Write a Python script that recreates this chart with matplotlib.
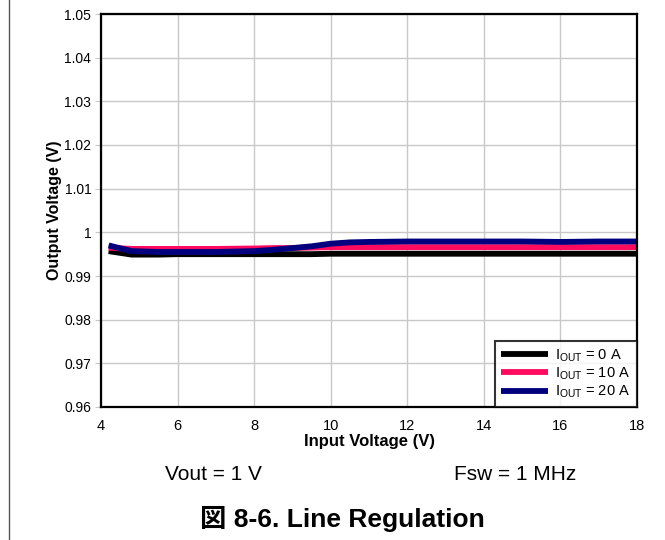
import matplotlib
matplotlib.use('Agg')
import matplotlib.pyplot as plt
from matplotlib.ticker import FuncFormatter
from matplotlib.lines import Line2D

# input voltage sweep (V)
vin = [4.2, 4.8, 5.5, 6, 7, 8, 8.5, 9, 9.5, 10, 10.5, 11, 12, 13, 14, 15, 16, 17, 18]

# output voltage per load current (V)
vout_0a = [0.9957, 0.9949, 0.9949, 0.9950, 0.9950, 0.9950, 0.9950, 0.9950, 0.9950, 0.9951,
           0.9951, 0.9951, 0.9951, 0.9951, 0.9951, 0.9951, 0.9951, 0.9951, 0.9951]
vout_10a = [0.9965, 0.9962, 0.9962, 0.9962, 0.9962, 0.9963, 0.9964, 0.9964, 0.9965, 0.9966,
            0.9966, 0.9966, 0.9966, 0.9966, 0.9966, 0.9966, 0.9966, 0.9966, 0.9966]
vout_20a = [0.9970, 0.9957, 0.9955, 0.9955, 0.9955, 0.9957, 0.9960, 0.9964, 0.9968, 0.9974,
            0.9977, 0.9978, 0.9979, 0.9979, 0.9979, 0.9979, 0.9978, 0.9979, 0.9979]

labels = [r'I$_{\mathregular{OUT}}$ = 0 A', r'I$_{\mathregular{OUT}}$ = 10 A', r'I$_{\mathregular{OUT}}$ = 20 A']
colors = ['#000000', '#ff0a5f', '#00007f']

xticks = [4, 6, 8, 10, 12, 14, 16, 18]
yticks = [0.96, 0.97, 0.98, 0.99, 1.0, 1.01, 1.02, 1.03, 1.04, 1.05]

plt.rcParams['font.family'] = ['Liberation Sans', 'Noto Sans CJK JP', 'DejaVu Sans']

fig = plt.figure(figsize=(6.65, 5.4), dpi=100)
ax = fig.add_axes([101 / 665, 133 / 540, 536 / 665, 393 / 540])

for y, c, lab in zip([vout_0a, vout_10a, vout_20a], colors, labels):
    ax.plot(vin, y, color=c, linewidth=4.2, label=lab, solid_capstyle='butt')

ax.set_xlim(4, 18)
ax.set_ylim(0.96, 1.05)
ax.set_xticks(xticks)
ax.set_yticks(yticks)
ax.yaxis.set_major_formatter(FuncFormatter(lambda v, p: f'{v:g}'))
ax.grid(True, color='#c8c8c8', linewidth=1)
ax.set_axisbelow(True)
ax.tick_params(axis='x', length=0, pad=8.5, labelsize=10.5)
ax.tick_params(axis='y', length=4, color='#c8c8c8', pad=3, labelsize=10)
for s in ax.spines.values():
    s.set_linewidth(1.6)
    s.set_color('black')

ax.set_xlabel('Input Voltage (V)', fontsize=12, fontweight='bold', labelpad=1)
ax.set_ylabel('Output Voltage (V)', fontsize=11.5, fontweight='bold', labelpad=1.5)

leg = ax.legend(loc='lower right', bbox_to_anchor=(1.0, 0.0), fontsize=10.5, frameon=True,
                fancybox=False, borderaxespad=0, handlelength=3.2, handletextpad=0.5,
                labelspacing=0.1, borderpad=0.45)
leg.get_frame().set_edgecolor('black')
leg.get_frame().set_linewidth(1.5)

fig.text(213 / 665, 1 - 475 / 540, 'Vout = 1 V', ha='center', va='center', fontsize=15)
fig.text(515 / 665, 1 - 475 / 540, 'Fsw = 1 MHz', ha='center', va='center', fontsize=15)
fig.text(342 / 665, 1 - 519 / 540, '図 8-6. Line Regulation', ha='center', va='center',
         fontsize=19, fontweight='bold')

fig.add_artist(Line2D([8.5 / 665, 8.5 / 665], [0, 1], transform=fig.transFigure,
                      color='#555555', linewidth=1))

fig.savefig('out.png', dpi=100, facecolor='white')
